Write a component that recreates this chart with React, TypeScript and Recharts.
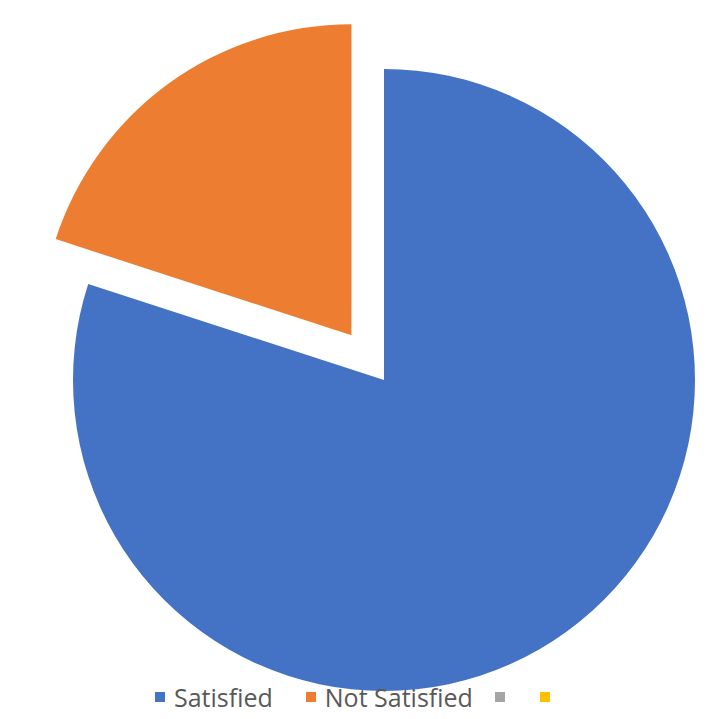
import React from 'react'
import { Pie, PieChart, Sector } from 'recharts'

const labels = ['Satisfied', 'Not Satisfied', '', '']
const values = [80, 20, 0, 0]
const colors = ['#4472C4', '#ED7D31', '#A5A5A5', '#FFC000']
const exploded = [0, 0.178, 0, 0]
const legendGaps = [33, 22, 35, 0]

const data = labels.map((name, i) => ({ name, value: values[i], fill: colors[i], explode: exploded[i] }))

const RAD = Math.PI / 180

const renderSlice = (props: any) => {
  const { cx, cy, innerRadius, outerRadius, startAngle, endAngle, midAngle, fill, payload } = props
  const off = (payload?.explode ?? 0) * outerRadius
  const dx = off * Math.cos(-midAngle * RAD)
  const dy = off * Math.sin(-midAngle * RAD)
  return (
    <Sector
      cx={cx + dx}
      cy={cy + dy}
      innerRadius={innerRadius}
      outerRadius={outerRadius}
      startAngle={startAngle}
      endAngle={endAngle}
      fill={fill}
      stroke="none"
    />
  )
}

// legend drawn from the same arrays, placed under the pie
const ChartLegend = () => (
  <div
    style={{
      position: 'absolute',
      top: 676,
      left: 147,
      display: 'flex',
      alignItems: 'center',
      fontFamily: '"Open Sans", sans-serif',
      fontSize: 25,
      lineHeight: '26px',
      color: '#595959',
      whiteSpace: 'nowrap',
    }}
  >
    {data.map((d, i) => (
      <div key={i} style={{ display: 'flex', alignItems: 'center', marginRight: legendGaps[i] }}>
        <span style={{ width: 10, height: 10, background: d.fill, display: 'inline-block', marginRight: d.name ? 9 : 0 }} />
        <span>{d.name}</span>
      </div>
    ))}
  </div>
)

const App = () => {
  return (
    <div style={{ position: 'relative', width: 696, height: 703, background: '#fff' }}>
      <PieChart width={696} height={703} margin={{ top: 0, right: 0, bottom: 0, left: 0 }}>
        <Pie
          data={data}
          dataKey="value"
          nameKey="name"
          cx={376}
          cy={372}
          outerRadius={311}
          startAngle={90}
          endAngle={-270}
          stroke="none"
          shape={renderSlice}
          isAnimationActive={false}
        />
      </PieChart>
      <ChartLegend />
    </div>
  )
}

export default App
